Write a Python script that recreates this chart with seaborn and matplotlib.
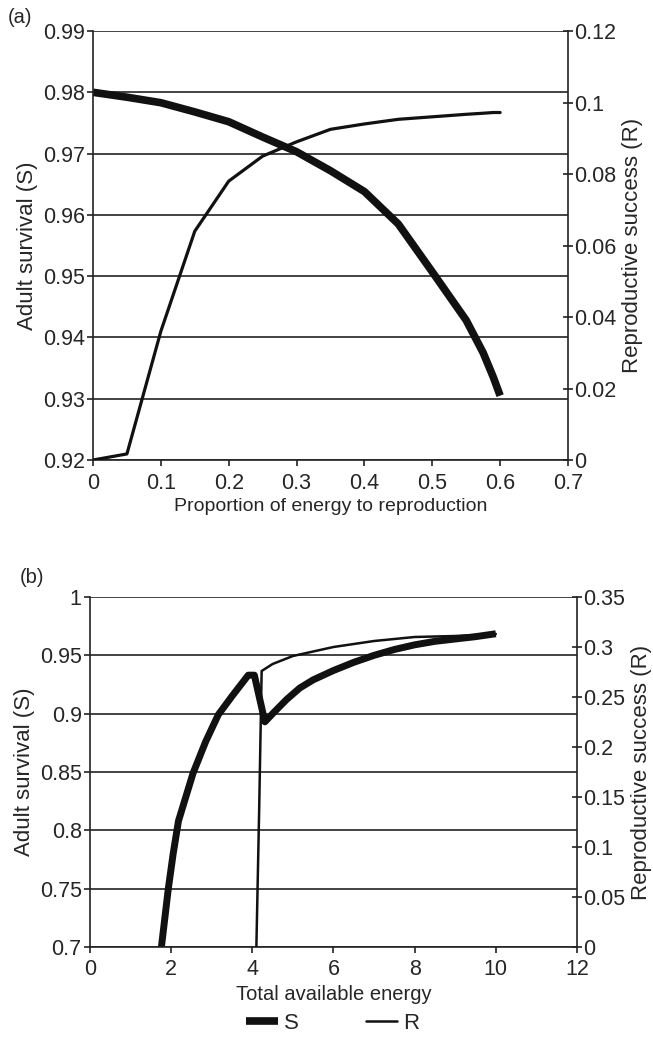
import numpy as np
import matplotlib
matplotlib.use("Agg")
import matplotlib.pyplot as plt
import seaborn as sns
from matplotlib.ticker import FuncFormatter
from matplotlib.lines import Line2D

# panel (a): allocation of energy to reproduction
prop_energy = [0, 0.05, 0.1, 0.15, 0.2, 0.25, 0.3, 0.35, 0.4, 0.45, 0.5,
               0.55, 0.575, 0.59, 0.6]
survival_a = [0.980, 0.9792, 0.9783, 0.9768, 0.9752, 0.9727, 0.9703, 0.9672,
              0.9638, 0.9585, 0.9507, 0.9428, 0.9375, 0.9335, 0.9305]
repro_a = [0, 0.0017, 0.036, 0.064, 0.078, 0.085, 0.089, 0.0925, 0.094,
           0.0953, 0.096, 0.0967, 0.0970, 0.0972, 0.0972]

# panel (b): total available energy
energy_s = [1.76, 1.93, 2.05, 2.18, 2.54, 2.85, 3.16, 3.5, 3.9, 4.05, 4.31,
            4.5, 4.84, 5.17, 5.5, 6, 6.5, 7, 7.5, 8, 8.5, 9, 9.5, 10]
survival_b = [0.70, 0.75, 0.78, 0.808, 0.849, 0.876, 0.899, 0.915, 0.933, 0.933,
              0.893, 0.900, 0.912, 0.922, 0.929, 0.937, 0.944, 0.950, 0.955,
              0.959, 0.962, 0.964, 0.966, 0.9685]
energy_r = [4.1, 4.17, 4.23, 4.5, 5.0, 6, 7, 8, 9, 10]
repro_b = [0, 0.14, 0.276, 0.283, 0.291, 0.300, 0.306, 0.310, 0.311, 0.313]

sns.set_style("white")
plt.rcParams["font.family"] = ["Liberation Sans", "DejaVu Sans"]
plt.rcParams["font.size"] = 14

fmt = FuncFormatter(lambda v, p: f"{round(v, 4):g}")
ink = "#111111"


def style_panel(ax, ax2, xlim, xstep, ylim, ystep, y2lim, y2step, xlabel, xsize):
    ax.set_xlim(*xlim)
    ax.set_ylim(*ylim)
    ax2.set_ylim(*y2lim)
    ax.set_xticks(np.arange(xlim[0], xlim[1] + xstep / 2, xstep))
    ax.set_yticks(np.arange(ylim[0], ylim[1] + ystep / 2, ystep))
    ax2.set_yticks(np.arange(y2lim[0], y2lim[1] + y2step / 2, y2step))
    for a in (ax, ax2):
        a.xaxis.set_major_formatter(fmt)
        a.yaxis.set_major_formatter(fmt)
        for s in a.spines.values():
            s.set_color("#222222")
            s.set_linewidth(1.2)
        a.spines["top"].set_visible(False)
    ax.spines["right"].set_visible(False)
    ax2.spines["left"].set_visible(False)
    ax2.spines["bottom"].set_visible(False)
    ax.yaxis.grid(True, color="#222222", linewidth=1.2)
    ax.set_axisbelow(True)
    ax.tick_params(axis="y", direction="out", length=4, width=1.2,
                   color="#222222", labelsize=15.5, pad=2, left=True)
    ax.tick_params(axis="x", direction="out", length=4, width=1.2,
                   color="#222222", labelsize=15.5, pad=5, bottom=True)
    ax2.tick_params(axis="y", direction="inout", length=7, width=1.2,
                    color="#222222", labelsize=15.5, pad=1, right=True)
    ax.set_xlabel(xlabel, fontsize=xsize, labelpad=3)
    ax.set_ylabel("Adult survival (S)", fontsize=16, labelpad=3)
    ax2.set_ylabel("Reproductive success (R)", fontsize=16, labelpad=4)


fig = plt.figure(figsize=(6.53, 10.37), dpi=100)

ax_a = fig.add_axes([0.1424, 0.5564, 0.7274, 0.4137])
ax_a2 = ax_a.twinx()
sns.lineplot(x=prop_energy, y=survival_a, ax=ax_a, color=ink,
             linewidth=5.5, solid_capstyle="butt")
sns.lineplot(x=prop_energy, y=repro_a, ax=ax_a2, color=ink,
             linewidth=2.3)
style_panel(ax_a, ax_a2, (0, 0.7), 0.1, (0.92, 0.99), 0.01, (0, 0.12), 0.02,
            "Proportion of energy to reproduction", 14)
fig.text(0.012, 0.978, "(a)", fontsize=14.5)

ax_b = fig.add_axes([0.1378, 0.0868, 0.7458, 0.3375])
ax_b2 = ax_b.twinx()
sns.lineplot(x=energy_s, y=survival_b, ax=ax_b, color=ink,
             linewidth=5.0, solid_capstyle="butt")
sns.lineplot(x=energy_r, y=repro_b, ax=ax_b2, color=ink,
             linewidth=1.8)
style_panel(ax_b, ax_b2, (0, 12), 2, (0.7, 1.0), 0.05, (0, 0.35), 0.05,
            "Total available energy", 14.5)
fig.text(0.03, 0.438, "(b)", fontsize=14.5)

handles = [Line2D([], [], color=ink, linewidth=5.5, solid_capstyle="butt"),
           Line2D([], [], color=ink, linewidth=1.8)]
fig.legend(handles, ["S", "R"], loc="center", bbox_to_anchor=(0.51, 0.013),
           ncol=2, frameon=False, fontsize=16, handlelength=1.4,
           handletextpad=0.3, columnspacing=3.0)

fig.savefig("out.png", dpi=100)
